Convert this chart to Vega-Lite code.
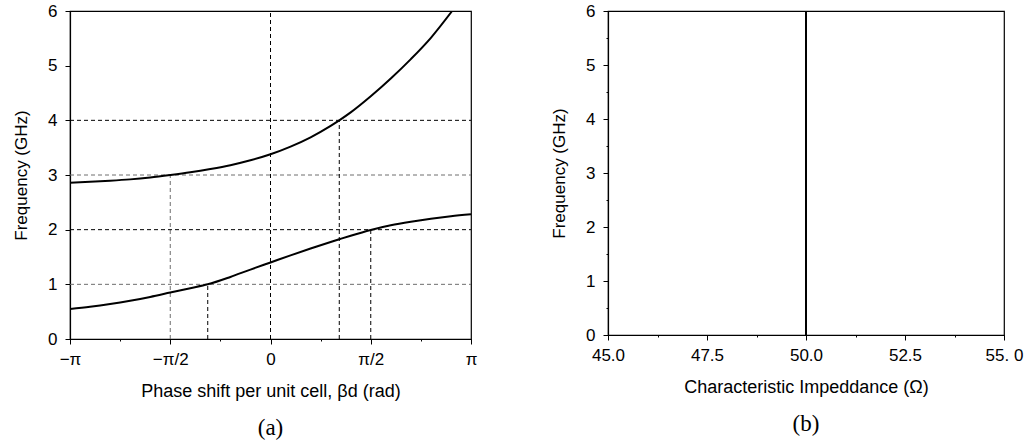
{
  "$schema": "https://vega.github.io/schema/vega-lite/v6.json",
  "padding": {"left": 11, "top": 1, "right": 0, "bottom": 0},
  "background": "white",
  "spacing": 71,
  "config": {
    "view": {"stroke": "black", "strokeWidth": 1.2},
    "axis": {
      "grid": false,
      "domainColor": "black",
      "domainWidth": 1.2,
      "tickColor": "black",
      "tickWidth": 1,
      "labelColor": "black",
      "titleColor": "black",
      "labelFont": "Liberation Sans",
      "titleFont": "Liberation Sans",
      "labelFontSize": 17,
      "titleFontSize": 18,
      "titleFontWeight": "normal",
      "labelOverlap": false,
      "labelFlush": false
    },
    "axisY": {"titleFontSize": 17},
    "title": {"font": "Liberation Serif", "fontSize": 23, "fontWeight": "normal", "color": "black", "orient": "bottom", "offset": 17}
  },
  "datasets": {
    "curves": [
      {"phase": -1.0, "freq": 2.86, "band": "upper"},
      {"phase": -0.9, "freq": 2.875, "band": "upper"},
      {"phase": -0.8, "freq": 2.895, "band": "upper"},
      {"phase": -0.7, "freq": 2.92, "band": "upper"},
      {"phase": -0.6, "freq": 2.955, "band": "upper"},
      {"phase": -0.5, "freq": 3.0, "band": "upper"},
      {"phase": -0.4, "freq": 3.05, "band": "upper"},
      {"phase": -0.3, "freq": 3.11, "band": "upper"},
      {"phase": -0.2, "freq": 3.18, "band": "upper"},
      {"phase": -0.1, "freq": 3.27, "band": "upper"},
      {"phase": 0.0, "freq": 3.38, "band": "upper"},
      {"phase": 0.1, "freq": 3.52, "band": "upper"},
      {"phase": 0.2, "freq": 3.69, "band": "upper"},
      {"phase": 0.3, "freq": 3.9, "band": "upper"},
      {"phase": 0.343, "freq": 4.0, "band": "upper"},
      {"phase": 0.4, "freq": 4.145, "band": "upper"},
      {"phase": 0.5, "freq": 4.44, "band": "upper"},
      {"phase": 0.6, "freq": 4.765, "band": "upper"},
      {"phase": 0.7, "freq": 5.12, "band": "upper"},
      {"phase": 0.8, "freq": 5.51, "band": "upper"},
      {"phase": 0.906, "freq": 6.0, "band": "upper"},
      {"phase": -1.0, "freq": 0.55, "band": "lower"},
      {"phase": -0.9, "freq": 0.59, "band": "lower"},
      {"phase": -0.8, "freq": 0.64, "band": "lower"},
      {"phase": -0.7, "freq": 0.7, "band": "lower"},
      {"phase": -0.6, "freq": 0.77, "band": "lower"},
      {"phase": -0.5, "freq": 0.85, "band": "lower"},
      {"phase": -0.4, "freq": 0.93, "band": "lower"},
      {"phase": -0.313, "freq": 1.0, "band": "lower"},
      {"phase": -0.2, "freq": 1.135, "band": "lower"},
      {"phase": -0.1, "freq": 1.27, "band": "lower"},
      {"phase": 0.0, "freq": 1.4, "band": "lower"},
      {"phase": 0.1, "freq": 1.53, "band": "lower"},
      {"phase": 0.2, "freq": 1.655, "band": "lower"},
      {"phase": 0.3, "freq": 1.775, "band": "lower"},
      {"phase": 0.343, "freq": 1.825, "band": "lower"},
      {"phase": 0.4, "freq": 1.89, "band": "lower"},
      {"phase": 0.5, "freq": 1.995, "band": "lower"},
      {"phase": 0.6, "freq": 2.08, "band": "lower"},
      {"phase": 0.7, "freq": 2.145, "band": "lower"},
      {"phase": 0.8, "freq": 2.2, "band": "lower"},
      {"phase": 0.9, "freq": 2.245, "band": "lower"},
      {"phase": 1.0, "freq": 2.28, "band": "lower"}
    ],
    "guidesDark": [
      {"p0": -1, "p1": 1, "f0": 4, "f1": 4},
      {"p0": -1, "p1": 1, "f0": 2, "f1": 2},
      {"p0": 0, "p1": 0, "f0": 0, "f1": 6},
      {"p0": 0.343, "p1": 0.343, "f0": 0, "f1": 4},
      {"p0": 0.5, "p1": 0.5, "f0": 0, "f1": 2},
      {"p0": -0.313, "p1": -0.313, "f0": 0, "f1": 1}
    ],
    "guidesLight": [
      {"p0": -1, "p1": 1, "f0": 3, "f1": 3},
      {"p0": -1, "p1": 1, "f0": 1, "f1": 1},
      {"p0": -0.5, "p1": -0.5, "f0": 0, "f1": 3}
    ],
    "impedance": [
      {"z": 50.0, "freq": 0},
      {"z": 50.0, "freq": 6}
    ]
  },
  "hconcat": [
    {
      "width": 401,
      "height": 328,
      "title": {"text": "(a)"},
      "layer": [
        {
          "data": {"name": "guidesLight"},
          "mark": {"type": "rule", "color": "#6e6e6e", "strokeWidth": 1, "strokeDash": [4, 3]},
          "encoding": {
            "x": {"field": "p0", "type": "quantitative"},
            "x2": {"field": "p1"},
            "y": {"field": "f0", "type": "quantitative"},
            "y2": {"field": "f1"}
          }
        },
        {
          "data": {"name": "guidesDark"},
          "mark": {"type": "rule", "color": "black", "strokeWidth": 1, "strokeDash": [4, 3]},
          "encoding": {
            "x": {"field": "p0", "type": "quantitative"},
            "x2": {"field": "p1"},
            "y": {"field": "f0", "type": "quantitative"},
            "y2": {"field": "f1"}
          }
        },
        {
          "data": {"name": "curves"},
          "mark": {"type": "line", "color": "black", "strokeWidth": 2, "interpolate": "monotone", "clip": true},
          "encoding": {
            "x": {
              "field": "phase", "type": "quantitative",
              "scale": {"domain": [-1, 1], "nice": false, "zero": false},
              "axis": {
                "title": "Phase shift per unit cell, βd (rad)",
                "values": [-1, -0.75, -0.5, -0.25, 0, 0.25, 0.5, 0.75, 1],
                "labelExpr": "datum.value == -1 ? '−π' : datum.value == -0.5 ? '−π/2' : datum.value == 0 ? '0' : datum.value == 0.5 ? 'π/2' : datum.value == 1 ? 'π' : ''",
                "tickSize": {"condition": {"test": "(datum.value * 2) % 1 != 0", "value": 2}, "value": 5},
                "labelPadding": 7,
                "titlePadding": 15
              }
            },
            "y": {
              "field": "freq", "type": "quantitative",
              "scale": {"domain": [0, 6], "nice": false},
              "axis": {
                "title": "Frequency (GHz)",
                "values": [0, 0.5, 1, 1.5, 2, 2.5, 3, 3.5, 4, 4.5, 5, 5.5, 6],
                "labelExpr": "datum.value % 1 == 0 ? format(datum.value, 'd') : ''",
                "tickSize": {"condition": {"test": "datum.value % 1 != 0", "value": 2}, "value": 5},
                "labelPadding": 8,
                "titlePadding": 17
              }
            },
            "detail": {"field": "band", "type": "nominal"}
          }
        }
      ]
    },
    {
      "width": 396,
      "height": 324,
      "title": {"text": "(b)"},
      "data": {"name": "impedance"},
      "mark": {"type": "line", "color": "black", "strokeWidth": 2},
      "encoding": {
        "x": {
          "field": "z", "type": "quantitative",
          "scale": {"domain": [45, 55], "nice": false, "zero": false},
          "axis": {
            "title": "Characteristic Impeddance (Ω)",
            "values": [45, 46.25, 47.5, 48.75, 50, 51.25, 52.5, 53.75, 55],
            "labelExpr": "(datum.value * 0.4) % 1 != 0 ? '' : datum.value == 55 ? '55. 0' : format(datum.value, '.1f')",
            "tickSize": {"condition": {"test": "(datum.value * 0.4) % 1 != 0", "value": 2}, "value": 5},
            "labelPadding": 7,
            "titlePadding": 15
          }
        },
        "y": {
          "field": "freq", "type": "quantitative",
          "scale": {"domain": [0, 6], "nice": false},
          "axis": {
            "title": "Frequency (GHz)",
            "values": [0, 0.5, 1, 1.5, 2, 2.5, 3, 3.5, 4, 4.5, 5, 5.5, 6],
            "labelExpr": "datum.value % 1 == 0 ? format(datum.value, 'd') : ''",
            "tickSize": {"condition": {"test": "datum.value % 1 != 0", "value": 2}, "value": 5},
            "labelPadding": 8,
            "titlePadding": 17
          }
        }
      }
    }
  ]
}
